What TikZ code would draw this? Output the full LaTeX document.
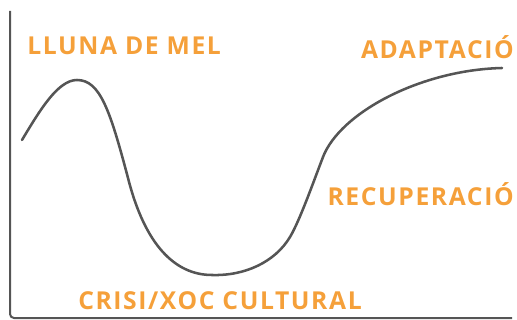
\documentclass[tikz,border=0pt]{standalone}
\usepackage{fontspec}
\setmainfont{Open Sans}
\definecolor{lbl}{HTML}{F5A03A}
\definecolor{ink}{HTML}{555555}
\tikzset{
  lab/.style={inner sep=0pt, text=lbl, font=\fontsize{18.5}{18.5}\selectfont\bfseries\addfontfeatures{LetterSpace=6.5}},
  axisline/.style={draw=ink, line width=1.5pt, rounded corners=3pt},
  curveline/.style={draw=ink, line width=1.9pt, line cap=round}
}
\begin{document}
\begin{tikzpicture}[x=0.75pt,y=-0.75pt]
\useasboundingbox (0,0) rectangle (517,320);
\coordinate (top) at (10,11);
\coordinate (corner) at (10,318);
\coordinate (right) at (512,318);
\draw[axisline] (top) -- (corner) -- (right);
\coordinate (c0) at (22,140);
\coordinate (c1) at (77,80);
\coordinate (c2) at (128,178);
\coordinate (c3) at (212,275);
\coordinate (c4) at (290,237);
\coordinate (c5) at (323,157);
\coordinate (c6) at (502,68);
\draw[curveline] (c0) .. controls (40,110) and (58,80) .. (c1)
  .. controls (100,80) and (110,110) .. (c2)
  .. controls (145,245) and (175,275) .. (c3)
  .. controls (245,276) and (275,262) .. (c4)
  .. controls (300,220) and (313,183) .. (c5)
  .. controls (340,113) and (420,70) .. (c6);
\node[lab, anchor=base west] (lune) at (27,55) {LLUNA DE MEL};
\node[lab, anchor=base east] (adapt) at (514,59) {ADAPTACIÓ};
\node[lab, anchor=base east] (recup) at (514,206) {RECUPERACIÓ};
\node[lab, anchor=base west] (crisi) at (78,309) {CRISI/XOC CULTURAL};
\end{tikzpicture}
\end{document}
